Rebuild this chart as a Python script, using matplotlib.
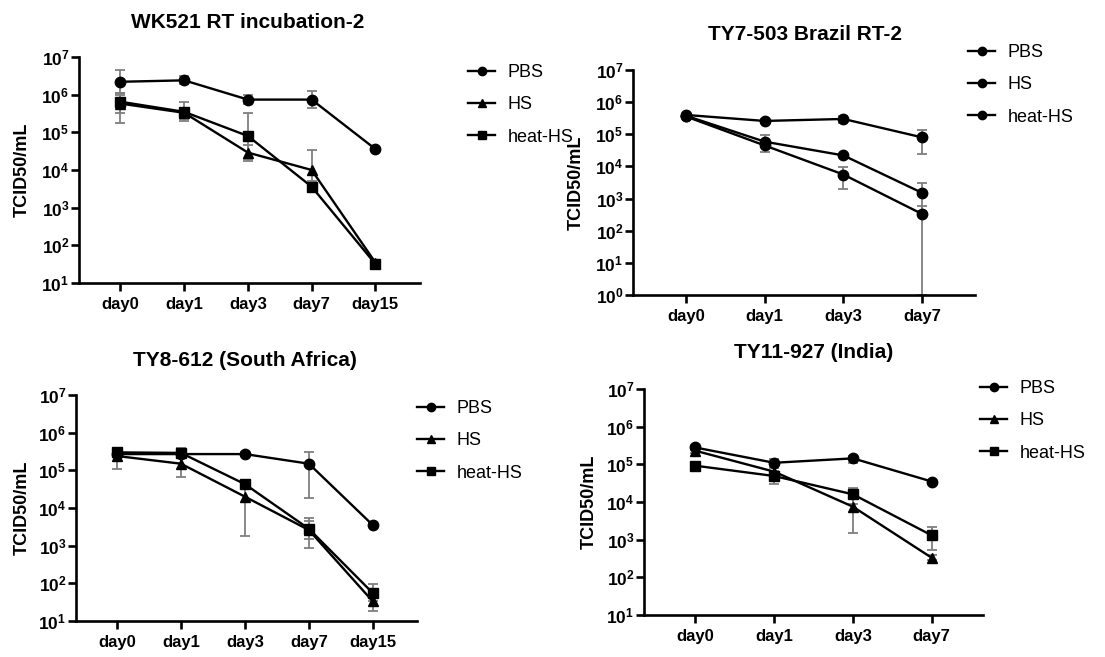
import matplotlib
matplotlib.use("Agg")
import matplotlib.pyplot as plt
import numpy as np
from matplotlib.ticker import FixedLocator, FixedFormatter, NullLocator

plt.rcParams['font.family'] = ['Liberation Sans', 'DejaVu Sans']
plt.rcParams['mathtext.fontset'] = 'custom'
plt.rcParams['mathtext.rm'] = 'Liberation Sans'
plt.rcParams['mathtext.bf'] = 'Liberation Sans:bold'
plt.rcParams['mathtext.it'] = 'Liberation Sans:italic'

W, H = 1105, 657

# ---------------- data ----------------
series_names = ['PBS', 'HS', 'heat-HS']

# Panel 1: WK521 RT incubation-2
p1_title = 'WK521 RT incubation-2'
p1_days = ['day0', 'day1', 'day3', 'day7', 'day15']
p1_pbs = [2.2e6, 2.4e6, 7.4e5, 7.4e5, 3.6e4]
p1_pbs_lo = [1.1e6, 1.9e6, 5.5e5, 4.5e5, 3.3e4]
p1_pbs_hi = [4.4e6, 3.1e6, 1.0e6, 1.26e6, 3.9e4]
p1_hs = [5.8e5, 3.3e5, 2.9e4, 1.0e4, 35]
p1_hs_lo = [1.8e5, 2.0e5, 1.7e4, 5.0e3, 30]
p1_hs_hi = [1.1e6, 4.5e5, 4.5e4, 3.5e4, 40]
p1_heat = [6.5e5, 3.5e5, 8.0e4, 3.6e3, 32]
p1_heat_lo = [3.3e5, 2.2e5, 2.0e4, 3.0e3, 29]
p1_heat_hi = [1.0e6, 6.3e5, 3.3e5, 4.5e3, 36]

# Panel 2: TY7-503 Brazil RT-2
p2_title = 'TY7-503 Brazil RT-2'
p2_days = ['day0', 'day1', 'day3', 'day7']
p2_pbs = [4.0e5, 2.6e5, 3.0e5, 8.0e4]
p2_pbs_lo = [3.6e5, 2.4e5, 2.2e5, 2.4e4]
p2_pbs_hi = [4.4e5, 2.9e5, 3.6e5, 1.4e5]
p2_hs = [3.8e5, 5.9e4, 2.2e4, 1.5e3]
p2_hs_lo = [3.4e5, 4.0e4, 2.0e4, 4.0e2]
p2_hs_hi = [4.2e5, 9.5e4, 2.5e4, 3.0e3]
p2_heat = [3.6e5, 4.5e4, 5.6e3, 3.3e2]
p2_heat_lo = [3.2e5, 2.9e4, 2.0e3, 1.0]
p2_heat_hi = [4.0e5, 6.0e4, 9.3e3, 6.0e2]

# Panel 3: TY8-612 (South Africa)
p3_title = 'TY8-612 (South Africa)'
p3_days = ['day0', 'day1', 'day3', 'day7', 'day15']
p3_pbs = [2.7e5, 2.7e5, 2.7e5, 1.5e5, 3.5e3]
p3_pbs_lo = [2.2e5, 2.3e5, 2.4e5, 1.8e4, 3.2e3]
p3_pbs_hi = [3.3e5, 3.3e5, 3.0e5, 3.1e5, 3.9e3]
p3_hs = [2.4e5, 1.5e5, 2.0e4, 2.6e3, 33]
p3_hs_lo = [1.1e5, 6.5e4, 1.8e3, 8.5e2, 19]
p3_hs_hi = [3.5e5, 2.4e5, 4.5e4, 5.4e3, 45]
p3_heat = [3.0e5, 2.9e5, 4.3e4, 2.8e3, 55]
p3_heat_lo = [2.5e5, 2.2e5, 3.5e4, 1.5e3, 35]
p3_heat_hi = [3.8e5, 4.0e5, 5.0e4, 4.5e3, 96]

# Panel 4: TY11-927 (India)
p4_title = 'TY11-927 (India)'
p4_days = ['day0', 'day1', 'day3', 'day7']
p4_pbs = [2.8e5, 1.1e5, 1.44e5, 3.5e4]
p4_pbs_lo = [2.4e5, 8.5e4, 1.1e5, 3.2e4]
p4_pbs_hi = [3.2e5, 1.4e5, 1.7e5, 3.8e4]
p4_hs = [2.3e5, 6.4e4, 7.5e3, 3.3e2]
p4_hs_lo = [2.0e5, 5.0e4, 1.5e3, 2.9e2]
p4_hs_hi = [2.6e5, 8.0e4, 1.3e4, 3.8e2]
p4_heat = [9.2e4, 4.9e4, 1.6e4, 1.3e3]
p4_heat_lo = [8.5e4, 3.0e4, 9.0e3, 5.3e2]
p4_heat_hi = [1.0e5, 6.5e4, 2.3e4, 2.2e3]

# ---------------- layout ----------------
fig = plt.figure(figsize=(W / 100, H / 100), dpi=100)


def rect(l, r, t, b):
    return [l / W, 1 - b / H, (r - l) / W, (b - t) / H]


def fx(x):
    return x / W


def fy(y):
    return 1 - y / H


panels = [
    dict(title=p1_title, days=p1_days,
         series=[(p1_pbs, p1_pbs_lo, p1_pbs_hi), (p1_hs, p1_hs_lo, p1_hs_hi), (p1_heat, p1_heat_lo, p1_heat_hi)],
         markers=['o', '^', 's'], box=(79, 420, 57, 283), ymin=1, xr=(0.65, 0.70),
         title_xy=(248, 23), ylab_xy=(22, 170), leg_xy=(468, 64)),
    dict(title=p2_title, days=p2_days,
         series=[(p2_pbs, p2_pbs_lo, p2_pbs_hi), (p2_hs, p2_hs_lo, p2_hs_hi), (p2_heat, p2_heat_lo, p2_heat_hi)],
         markers=['o', 'o', 'o'], box=(633, 975, 70, 295), ymin=0, xr=(0.67, 0.67),
         title_xy=(805, 35), ylab_xy=(576, 183), leg_xy=(968, 44)),
    dict(title=p3_title, days=p3_days,
         series=[(p3_pbs, p3_pbs_lo, p3_pbs_hi), (p3_hs, p3_hs_lo, p3_hs_hi), (p3_heat, p3_heat_lo, p3_heat_hi)],
         markers=['o', '^', 's'], box=(76, 417, 395, 621), ymin=1, xr=(0.64, 0.69),
         title_xy=(245, 361), ylab_xy=(22, 508), leg_xy=(417, 400)),
    dict(title=p4_title, days=p4_days,
         series=[(p4_pbs, p4_pbs_lo, p4_pbs_hi), (p4_hs, p4_hs_lo, p4_hs_hi), (p4_heat, p4_heat_lo, p4_heat_hi)],
         markers=['o', '^', 's'], box=(644, 983, 389, 615), ymin=1, xr=(0.65, 0.65),
         title_xy=(814, 353), ylab_xy=(589, 502), leg_xy=(980, 380)),
]

msizes = {'o': 7.5, '^': 7, 's': 7}

for p in panels:
    l, r, t, b = p['box']
    ax = fig.add_axes(rect(l, r, t, b))
    x = np.arange(len(p['days']))
    handles = []
    for (vals, lo, hi), mk, name in zip(p['series'], p['markers'], series_names):
        vals = np.array(vals, float)
        yerr = [vals - np.array(lo, float), np.array(hi, float) - vals]
        ax.errorbar(x, vals, yerr=yerr, fmt='none', ecolor='#7f7f7f', elinewidth=1.3,
                    capsize=3.5, capthick=1.3, zorder=2)
        h, = ax.plot(x, vals, color='black', lw=1.7, marker=mk, markersize=msizes[mk],
                     markerfacecolor='black', markeredgecolor='black', zorder=3, label=name)
        handles.append(h)
    ax.set_yscale('log')
    ymin = p['ymin']
    ax.set_ylim(10 ** ymin, 1e7)
    exps = list(range(ymin, 8))
    ax.yaxis.set_major_locator(FixedLocator([10.0 ** e for e in exps]))
    ax.yaxis.set_major_formatter(FixedFormatter([r'$\mathbf{10^{%d}}$' % e for e in exps]))
    ax.yaxis.set_minor_locator(NullLocator())
    ax.set_xlim(-p['xr'][0], len(x) - 1 + p['xr'][1])
    ax.set_xticks(x)
    ax.set_xticklabels(p['days'], fontweight='bold', fontsize=12)
    for s in ['top', 'right']:
        ax.spines[s].set_visible(False)
    for s in ['left', 'bottom']:
        ax.spines[s].set_linewidth(1.9)
    ax.tick_params(axis='y', which='major', length=6, width=1.9, pad=1, labelsize=12.5)
    ax.tick_params(axis='x', which='major', length=6, width=1.9, pad=4)
    fig.text(fx(p['title_xy'][0]), fy(p['title_xy'][1]), p['title'], ha='center', va='center',
             fontsize=15, fontweight='bold')
    fig.text(fx(p['ylab_xy'][0]), fy(p['ylab_xy'][1]), 'TCID50/mL', ha='center', va='center',
             rotation=90, fontsize=13, fontweight='bold')
    lx, ly = p['leg_xy']
    fig.legend(handles=handles, loc='upper left', bbox_to_anchor=(fx(lx), fy(ly)),
               frameon=False, fontsize=13, handlelength=1.5, handletextpad=0.7,
               labelspacing=0.85, borderpad=0, borderaxespad=0, markerscale=0.8)

fig.savefig('out.png', dpi=100)
